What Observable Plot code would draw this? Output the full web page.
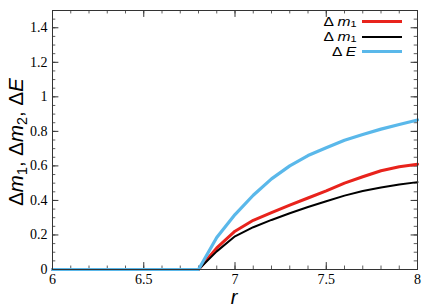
<!DOCTYPE html>
<html><head><meta charset="utf-8">
<script src="https://cdn.jsdelivr.net/npm/d3@7"></script>
<script src="https://cdn.jsdelivr.net/npm/@observablehq/plot@0.6"></script>
<style>
body{margin:0;background:#fff;}
#wrap{position:relative;width:436px;height:305px;overflow:hidden;}
.lab{position:absolute;font-family:"Liberation Sans",Arial,sans-serif;color:#000;white-space:nowrap;line-height:1;}
.lab i{font-style:italic;}
.lab sub{font-size:0.7em;position:relative;top:0.3em;vertical-align:baseline;line-height:0;}
#legend{position:absolute;top:14px;font-family:"Liberation Sans",Arial,sans-serif;font-size:13px;line-height:1;}
#legend .row{display:flex;align-items:center;justify-content:flex-end;height:15px;}
#legend .txt{display:inline-block;height:12px;line-height:12px;transform:scaleX(1.2);transform-origin:right center;white-space:nowrap;}
#legend .txt sub{font-size:0.7em;position:relative;top:0.2em;vertical-align:baseline;line-height:0;}
#legend .sw{width:40px;margin-left:6px;}
</style>
</head><body>
<div id="wrap"></div>
<script>
const r = [6, 6.1, 6.2, 6.3, 6.4, 6.5, 6.6, 6.7, 6.8, 6.9, 7.0, 7.1, 7.2, 7.3, 7.4, 7.5, 7.6, 7.7, 7.8, 7.9, 8.0];
const dm1 = [0, 0, 0, 0, 0, 0, 0, 0, 0, 0.125, 0.222, 0.285, 0.33, 0.373, 0.414, 0.455, 0.50, 0.537, 0.572, 0.595, 0.61];
const dm2 = [0, 0, 0, 0, 0, 0, 0, 0, 0, 0.105, 0.192, 0.245, 0.287, 0.326, 0.362, 0.395, 0.428, 0.455, 0.475, 0.492, 0.506];
const dE = [0, 0, 0, 0, 0, 0, 0, 0, 0, 0.185, 0.318, 0.43, 0.525, 0.60, 0.66, 0.705, 0.748, 0.782, 0.813, 0.84, 0.866];
const xTicks = [6, 6.5, 7, 7.5, 8];
const xMinor = d3.range(60, 81).map(v => v / 10);
const yTicks = [0, 0.2, 0.4, 0.6, 0.8, 1, 1.2, 1.4];
const yMinor = d3.range(0, 31).map(v => v / 20);

const series = [
  {name: "dm1", y: dm1, color: "#e8231c", width: 3},
  {name: "dm2", y: dm2, color: "#000000", width: 2},
  {name: "dE", y: dE, color: "#5ab8ea", width: 3.2}
];
const legendLabels = ["Δ <i>m</i><sub>1</sub>", "Δ <i>m</i><sub>1</sub>", "Δ <i>E</i>"];

const xMin = 6, xMax = 8, yMin = 0, yMax = 1.5;
const majX = 0.035, minX = 0.018, majY = 0.04, minY = 0.02;
const tickStroke = "#333";
const serif = "Liberation Serif";

const chart = Plot.plot({
  width: 436, height: 305,
  marginLeft: 52, marginRight: 19, marginTop: 10, marginBottom: 36,
  x: {domain: [xMin, xMax], axis: null},
  y: {domain: [yMin, yMax], axis: null},
  marks: [
    Plot.ruleX(xMinor, {x: d => d, y1: yMin, y2: yMin + minY, stroke: tickStroke, strokeWidth: 0.8}),
    Plot.ruleX(xMinor, {x: d => d, y1: yMax, y2: yMax - minY, stroke: tickStroke, strokeWidth: 0.8}),
    Plot.ruleX(xTicks, {x: d => d, y1: yMin, y2: yMin + majY, stroke: tickStroke, strokeWidth: 1}),
    Plot.ruleX(xTicks, {x: d => d, y1: yMax, y2: yMax - majY, stroke: tickStroke, strokeWidth: 1}),
    Plot.ruleY(yMinor, {y: d => d, x1: xMin, x2: xMin + minX, stroke: tickStroke, strokeWidth: 0.8}),
    Plot.ruleY(yMinor, {y: d => d, x1: xMax, x2: xMax - minX, stroke: tickStroke, strokeWidth: 0.8}),
    Plot.ruleY(yTicks, {y: d => d, x1: xMin, x2: xMin + majX, stroke: tickStroke, strokeWidth: 1}),
    Plot.ruleY(yTicks, {y: d => d, x1: xMax, x2: xMax - majX, stroke: tickStroke, strokeWidth: 1}),
    // tick labels as text marks through the scales
    Plot.text(xTicks, {x: d => d, frameAnchor: "bottom", lineAnchor: "top", dy: 5, text: d => String(d),
      fontFamily: serif, fontSize: 14, fill: "#000"}),
    Plot.text(yTicks, {y: d => d, frameAnchor: "left", textAnchor: "end", dx: -5, text: d => String(d),
      fontFamily: serif, fontSize: 14, fill: "#000"}),
    ...series.map(s => Plot.line(r, {x: d => d, y: (d, i) => s.y[i], stroke: s.color, strokeWidth: s.width})),
    Plot.frame({stroke: "#333", strokeWidth: 1})
  ]
});
const wrap = document.getElementById("wrap");
wrap.appendChild(chart);

const ylab = document.createElement("div");
ylab.className = "lab";
ylab.style.cssText = "left:16px;top:142px;font-size:20.5px;transform:translate(-50%,-50%) rotate(-90deg);";
ylab.innerHTML = "Δ<i>m</i><sub>1</sub>, Δ<i>m</i><sub>2</sub>, Δ<i>E</i>";
wrap.appendChild(ylab);

const xlab = document.createElement("div");
xlab.className = "lab";
xlab.style.cssText = "left:234px;bottom:1px;font-size:20px;line-height:0.65;transform:translateX(-50%);";
xlab.innerHTML = "<i>r</i>";
wrap.appendChild(xlab);

const legend = document.createElement("div");
legend.id = "legend";
legend.style.right = (436 - 402) + "px";
series.forEach((s, i) => {
  const row = document.createElement("div");
  row.className = "row";
  row.innerHTML = `<span class="txt">${legendLabels[i]}</span><span class="sw" style="border-top:${s.width}px solid ${s.color}"></span>`;
  legend.appendChild(row);
});
wrap.appendChild(legend);
</script>
</body></html>
